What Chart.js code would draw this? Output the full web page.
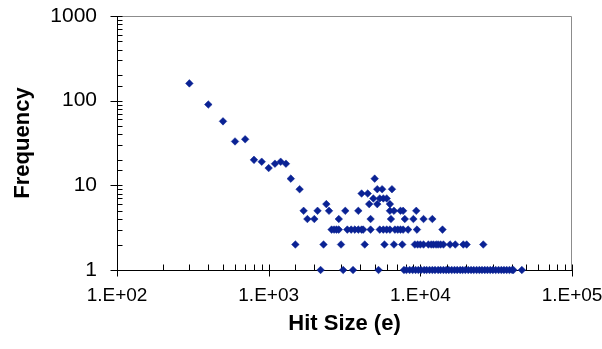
<!DOCTYPE html>
<html><head><meta charset="utf-8">
<script src="https://cdn.jsdelivr.net/npm/chart.js@4.4.0/dist/chart.umd.min.js"></script>
<style>html,body{margin:0;padding:0;background:#fff}#wrap{width:602px;height:349px;position:relative}</style>
</head><body><div id="wrap"><canvas id="c" width="602" height="349"></canvas></div>
<script>
// Hit size (e) and frequency pairs
const hitSizeTop = [300, 400, 500, 600, 700, 800, 900, 1000, 1100, 1200, 1300, 1400, 1600];
const freqTop    = [160, 90, 57, 33, 35, 20, 19, 16, 18, 19, 18, 12, 9];

const hitSizeF12 = [5000];
const hitSizeF9  = [5200, 5600, 6500];
const hitSizeF8  = [4100, 4500];
const hitSizeF7  = [4900, 5400, 5700, 6000];
const hitSizeF6  = [2400, 4600, 5200, 6300];
const hitSizeF5  = [1700, 2100, 2500, 3200, 3900, 6300, 6700, 7400, 7700, 9400];
const hitSizeF4  = [1800, 2000, 2900, 4700, 6400, 7900, 9000, 10500, 12000];
const hitSizeF3  = [2600, 2700, 2800, 2900, 3300, 3500, 3700, 3900, 4100, 4200, 4700, 5400, 5700, 6000, 6300, 6800, 7100, 7400, 7700, 8300, 9500, 14000];
const hitSizeF2  = [1500, 2300, 3000, 4300, 5800, 6700, 7600, 9200, 9600, 10000, 10500, 11300, 11800, 12200, 12700, 13100, 13600, 14200, 15700, 17000, 19200, 20200, 26000];
const hitSizeF1  = [2200, 3100, 3600, 5300, 7800, 8100, 8500, 8900, 9300, 9700, 10100, 10600, 11000, 11500, 12000, 12500, 13100, 13600, 14200, 14800, 15400, 16100, 16800, 17500, 18300, 19000, 19800, 20700, 21600, 22500, 23500, 24500, 25500, 26600, 27700, 28900, 30100, 31400, 32800, 34200, 35600, 37100, 38700, 40300, 41100, 46700];

const xTickLabels = {2: '1.E+02', 3: '1.E+03', 4: '1.E+04', 5: '1.E+05'};
const yTickLabels = {0: '1', 1: '10', 2: '100', 3: '1000'};

const rows = [
  [hitSizeF12, 12], [hitSizeF9, 9], [hitSizeF8, 8], [hitSizeF7, 7], [hitSizeF6, 6],
  [hitSizeF5, 5], [hitSizeF4, 4], [hitSizeF3, 3], [hitSizeF2, 2], [hitSizeF1, 1]
];
const points = hitSizeTop.map((x, i) => ({x: x, y: freqTop[i]}));
rows.forEach(([xs, f]) => xs.forEach(x => points.push({x: x, y: f})));

const MARK = '#0a2294';

function isPow10(v) {
  const l = Math.log10(v);
  return Math.abs(l - Math.round(l)) < 1e-9 ? Math.round(l) : null;
}

const tickPlugin = {
  id: 'excelTicks',
  beforeDatasetsDraw(chart) {
    const {ctx, chartArea: a} = chart;
    const xs = chart.scales.x, ys = chart.scales.y;
    ctx.save();
    ctx.strokeStyle = '#8c8c8c';
    ctx.lineWidth = 1;
    ctx.beginPath();
    ctx.moveTo(Math.round(a.left) + 0.5, Math.round(a.top) + 0.5);
    ctx.lineTo(Math.round(a.right) - 0.5, Math.round(a.top) + 0.5);
    ctx.lineTo(Math.round(a.right) - 0.5, Math.round(a.bottom));
    ctx.stroke();
    ctx.strokeStyle = '#000';
    ctx.beginPath();
    xs.ticks.forEach(t => {
      const p = Math.round(xs.getPixelForValue(t.value)) + 0.5;
      const major = isPow10(t.value) !== null;
      const b = Math.round(a.bottom) + 0.5;
      ctx.moveTo(p, major ? b + 6 : b);
      ctx.lineTo(p, b - 6);
    });
    ys.ticks.forEach(t => {
      const p = Math.round(ys.getPixelForValue(t.value)) + 0.5;
      const major = isPow10(t.value) !== null;
      const l = Math.round(a.left) + 0.5;
      ctx.moveTo(major ? l - 7 : l, p);
      ctx.lineTo(l + 5, p);
    });
    ctx.stroke();
    ctx.beginPath();
    ctx.moveTo(Math.round(a.left) + 0.5, Math.round(a.top));
    ctx.lineTo(Math.round(a.left) + 0.5, Math.round(a.bottom) + 0.5);
    ctx.lineTo(Math.round(a.right), Math.round(a.bottom) + 0.5);
    ctx.stroke();
    ctx.restore();
  }
};

new Chart(document.getElementById('c'), {
  type: 'scatter',
  data: {
    datasets: [{
      data: points,
      pointStyle: 'rectRot',
      pointRadius: 3.8,
      pointHoverRadius: 3.8,
      borderWidth: 0.5,
      backgroundColor: MARK,
      borderColor: MARK,
      clip: false
    }]
  },
  plugins: [tickPlugin],
  options: {
    responsive: false,
    animation: false,
    events: [],
    layout: {padding: {left: 0, right: 30, top: 16, bottom: 0}},
    plugins: {legend: {display: false}, tooltip: {enabled: false}},
    scales: {
      x: {
        type: 'logarithmic',
        min: 100, max: 100000,
        grid: {display: false, drawTicks: false},
        border: {display: false},
        afterFit(s) { s.height = 79; s.paddingLeft = 0; s.paddingRight = 0; },
        ticks: {
          autoSkip: false, maxRotation: 0, padding: 14,
          color: '#000',
          font: {family: 'Liberation Sans, Arial, sans-serif', size: 19},
          callback(v) { const e = isPow10(v); return e === null ? '' : xTickLabels[e]; }
        },
        title: {
          display: true, text: 'Hit Size (e)', color: '#000',
          font: {family: 'Liberation Sans, Arial, sans-serif', size: 22, weight: 'bold'},
          padding: {top: 0, bottom: 12}
        }
      },
      y: {
        type: 'logarithmic',
        min: 1, max: 1000,
        grid: {display: false, drawTicks: false},
        border: {display: false},
        afterFit(s) { s.width = 117; s.paddingTop = 0; s.paddingBottom = 0; },
        ticks: {
          autoSkip: false, padding: 20,
          color: '#000',
          font: {family: 'Liberation Sans, Arial, sans-serif', size: 21},
          callback(v) { const e = isPow10(v); return e === null ? '' : yTickLabels[e]; }
        },
        title: {
          display: true, text: 'Frequency', color: '#000',
          font: {family: 'Liberation Sans, Arial, sans-serif', size: 22, weight: 'bold'},
          padding: {top: 10, bottom: 0}
        }
      }
    }
  }
});
</script>
</body></html>
